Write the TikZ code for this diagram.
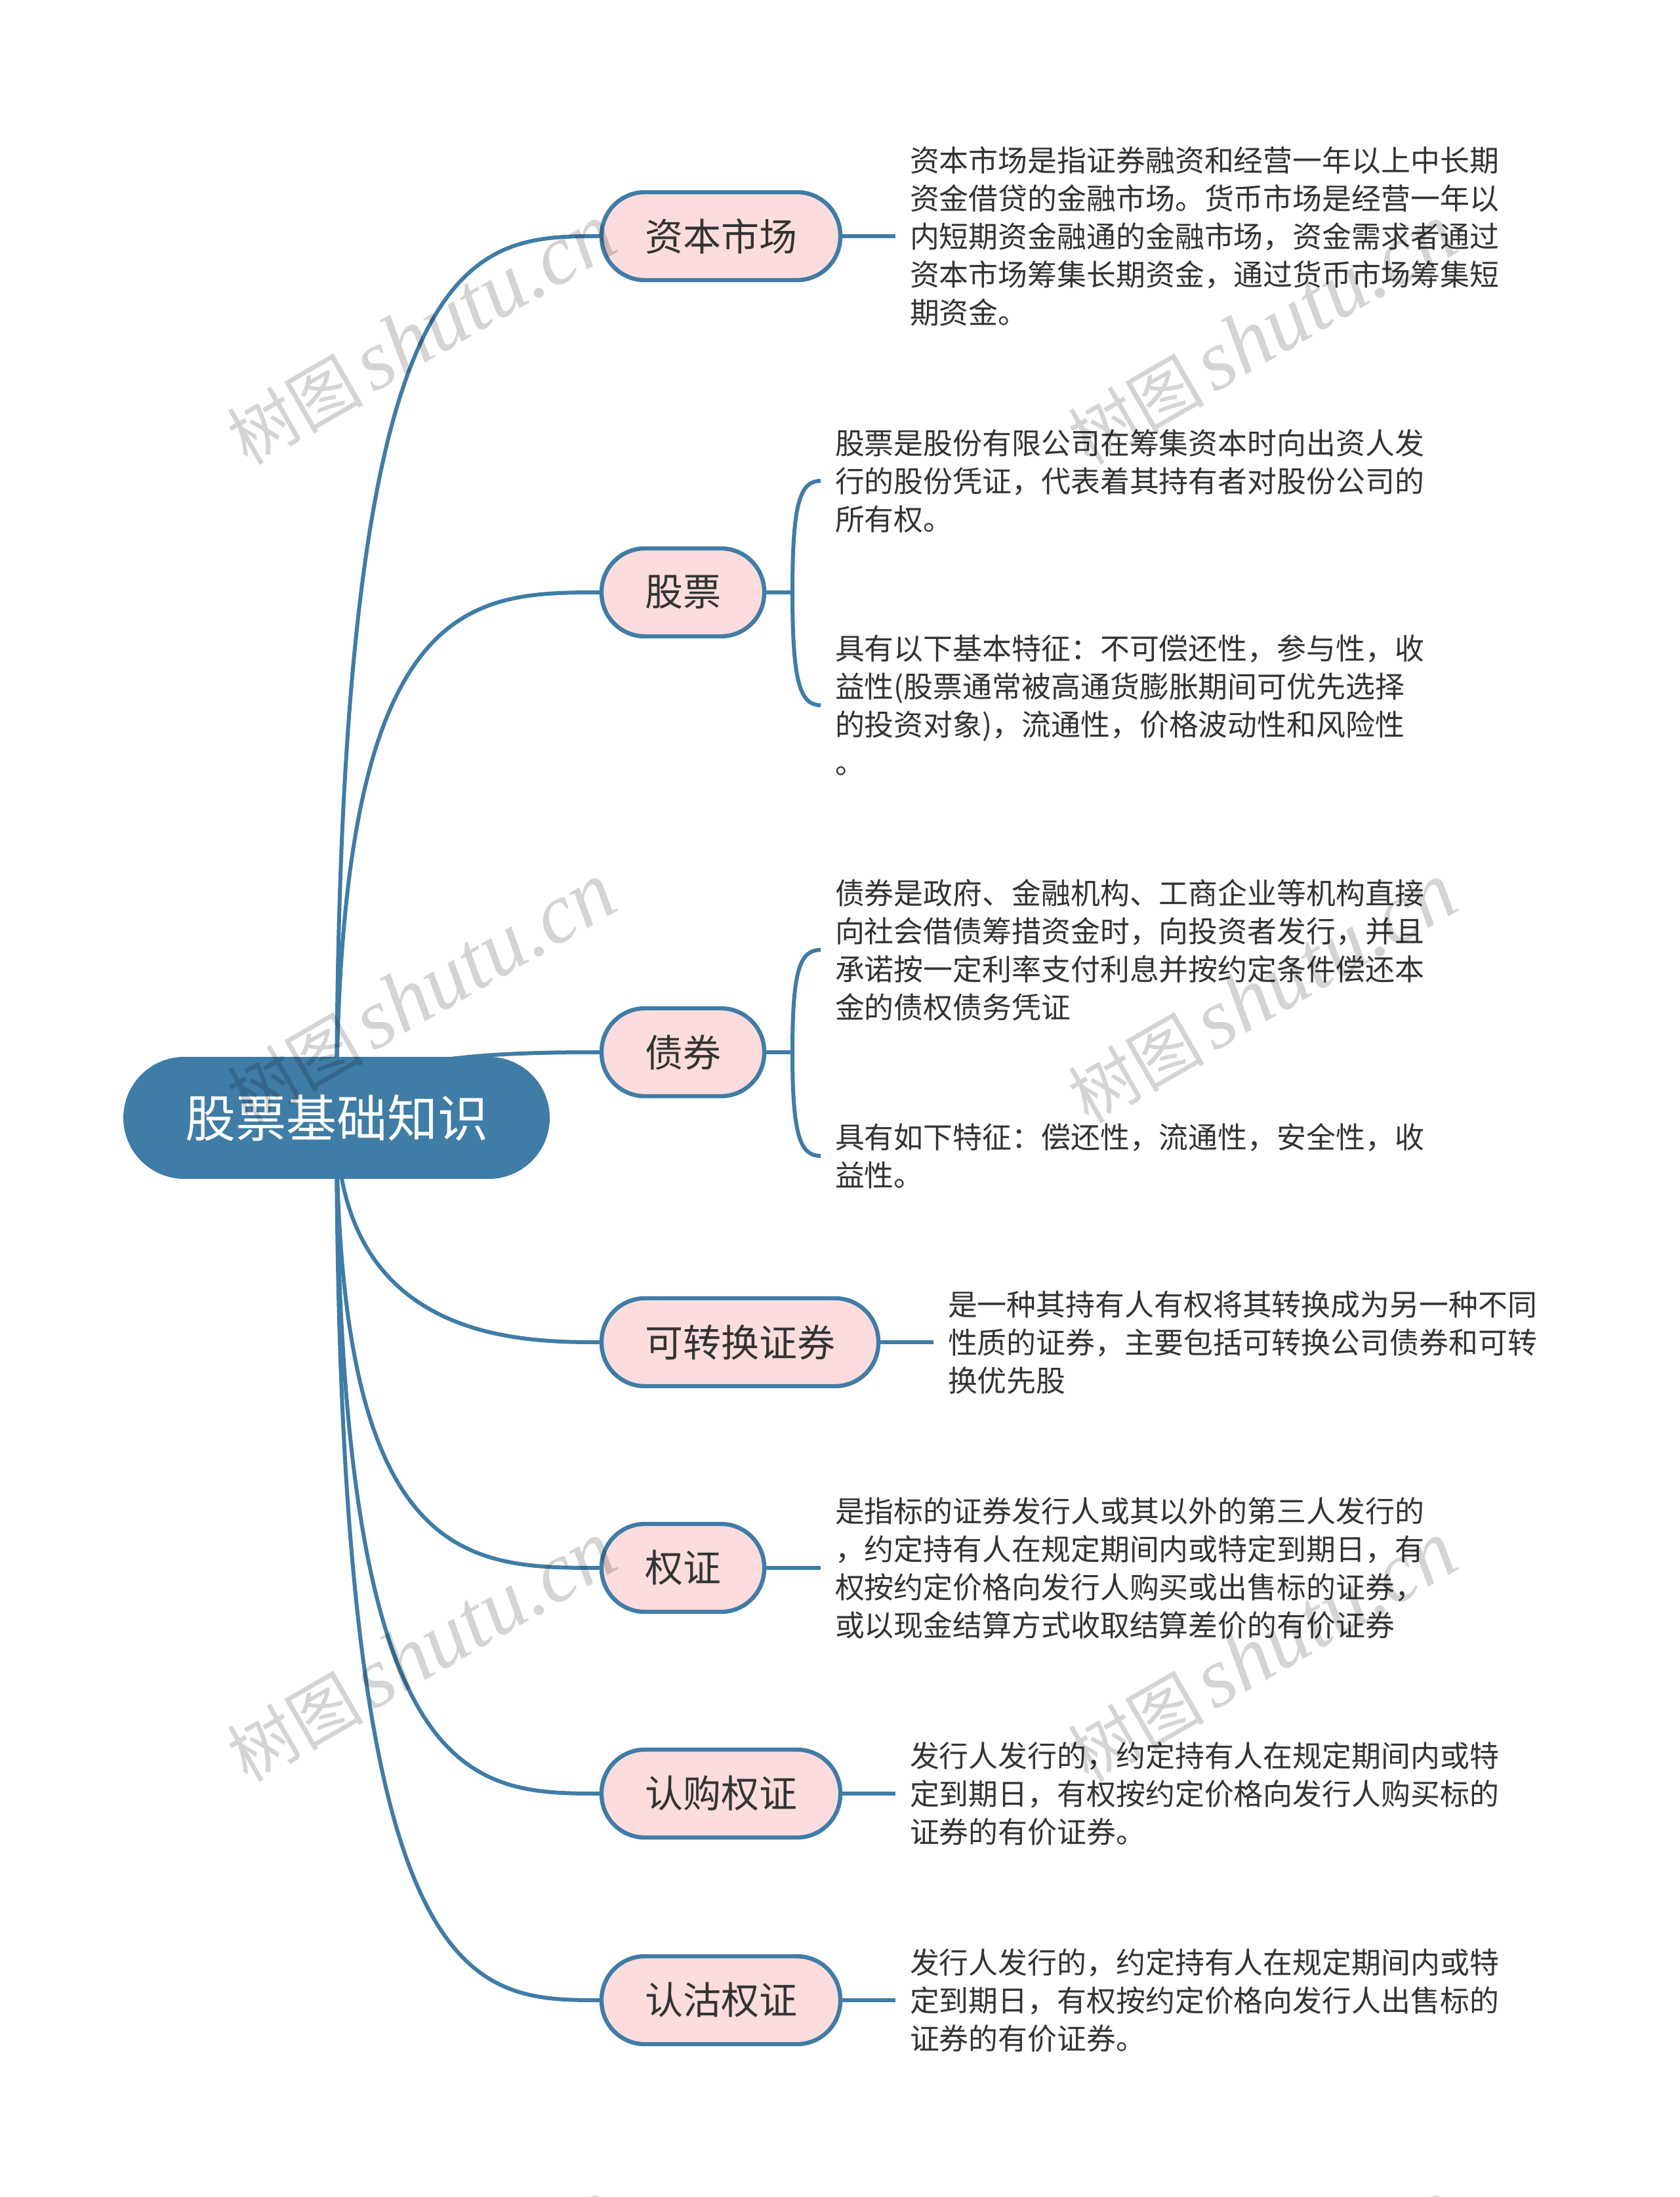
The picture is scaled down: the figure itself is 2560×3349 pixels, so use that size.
\documentclass[tikz,border=0pt]{standalone}
\usepackage{fontspec}
\setmainfont{Noto Sans CJK SC}
\newfontfamily\markcjk{Noto Sans CJK SC}
\newfontfamily\marklatin{Liberation Serif}[ItalicFont=* Italic]
\usetikzlibrary{positioning,backgrounds}
\definecolor{linkblue}{HTML}{3F7CA6}
\definecolor{branchpink}{HTML}{FCDCDC}
\definecolor{notegray}{HTML}{333333}
\tikzset{
    rootnode/.style={draw=linkblue, fill=linkblue, text=white, line width=1pt, rounded corners=46pt,
        minimum height=92pt, inner xsep=46.5pt, inner ysep=0pt, outer sep=0pt,
        font=\fontsize{38.5}{46}\selectfont},
    branchnode/.style={draw=linkblue, fill=branchpink, text=notegray, line width=3.2pt, rounded corners=33pt,
        minimum height=67pt, inner xsep=33pt, inner ysep=0pt, outer sep=0pt,
        font=\fontsize{29}{35}\selectfont},
    notenode/.style={text=notegray, align=left, inner xsep=11pt, inner ysep=0pt, outer sep=0pt,
        font=\fontsize{22.45}{29}\selectfont},
    linkline/.style={draw=linkblue, line width=3pt},
    stubline/.style={draw=linkblue, line width=3.2pt},
    markstamp/.style={rotate=30, text=black, opacity=0.17, inner sep=0pt}
}
\begin{document}
\begin{tikzpicture}[x=0.5pt, y=-0.5pt]
    \useasboundingbox (0,0) rectangle (2560,3349);
    \clip (0,0) rectangle (2560,3349);
    \node[rootnode] (root) at (513,1704) {股票基础知识};
    \node[branchnode, anchor=west] (capital) at (917,360) {资本市场};
    \node[branchnode, below=204.5pt of capital.south west, anchor=north west] (stock) {股票};
    \node[branchnode, below=283.5pt of stock.south west, anchor=north west] (bond) {债券};
    \node[branchnode, below=154pt of bond.south west, anchor=north west] (convert) {可转换证券};
    \node[branchnode, below=105pt of convert.south west, anchor=north west] (warrant) {权证};
    \node[branchnode, below=105pt of warrant.south west, anchor=north west] (callw) {认购权证};
    \node[branchnode, below=90.5pt of callw.south west, anchor=north west] (putw) {认沽权证};
    \node[notenode, right=42pt of capital] (capitalnote) {资本市场是指证券融资和经营一年以上中长期\\资金借贷的金融市场。货币市场是经营一年以\\内短期资金融通的金融市场，资金需求者通过\\资本市场筹集长期资金，通过货币市场筹集短\\期资金。};
    \node[notenode, right=43pt of stock, yshift=85pt] (stocknoteA) {股票是股份有限公司在筹集资本时向出资人发\\行的股份凭证，代表着其持有者对股份公司的\\所有权。};
    \node[notenode, right=43pt of stock, yshift=-86pt] (stocknoteB) {具有以下基本特征：不可偿还性，参与性，收\\益性(股票通常被高通货膨胀期间可优先选择\\的投资对象)，流通性，价格波动性和风险性\\。};
    \node[notenode, right=43pt of bond, yshift=78pt] (bondnoteA) {债券是政府、金融机构、工商企业等机构直接\\向社会借债筹措资金时，向投资者发行，并且\\承诺按一定利率支付利息并按约定条件偿还本\\金的债权债务凭证};
    \node[notenode, right=43pt of bond, yshift=-79pt] (bondnoteB) {具有如下特征：偿还性，流通性，安全性，收\\益性。};
    \node[notenode, right=42pt of convert] (convertnote) {是一种其持有人有权将其转换成为另一种不同\\性质的证券，主要包括可转换公司债券和可转\\换优先股};
    \node[notenode, right=43pt of warrant] (warrantnote) {是指标的证券发行人或其以外的第三人发行的\\，约定持有人在规定期间内或特定到期日，有\\权按约定价格向发行人购买或出售标的证券，\\或以现金结算方式收取结算差价的有价证券};
    \node[notenode, right=42pt of callw] (callnote) {发行人发行的，约定持有人在规定期间内或特\\定到期日，有权按约定价格向发行人购买标的\\证券的有价证券。};
    \node[notenode, right=42pt of putw] (putnote) {发行人发行的，约定持有人在规定期间内或特\\定到期日，有权按约定价格向发行人出售标的\\证券的有价证券。};
    \begin{pgfonlayer}{background}
        \draw[linkline] (root.center) .. controls +(0,-1345) and +(-203,0) .. (capital.west);
        \draw[linkline] (root.center) .. controls +(0,-800) and +(-203,0) .. (stock.west);
        \draw[linkline] (root.center) .. controls +(0,-99) and +(-130,0) .. (bond.west);
        \draw[linkline] (root.center) .. controls +(0,343) and +(-120,0) .. (convert.west);
        \draw[linkline] (root.center) .. controls +(0,687) and +(-203,0) .. (warrant.west);
        \draw[linkline] (root.center) .. controls +(0,1029) and +(-203,0) .. (callw.west);
        \draw[linkline] (root.center) .. controls +(0,1345) and +(-203,0) .. (putw.west);
    \end{pgfonlayer}
    \draw[stubline] (capital) -- (capitalnote);
    \draw[stubline] (convert) -- (convertnote);
    \draw[stubline] (warrant) -- (warrantnote);
    \draw[stubline] (callw) -- (callnote);
    \draw[stubline] (putw) -- (putnote);
    \draw[stubline] (stock.east) -- ++(43,0) coordinate (stockfork);
    \draw[linkline] (stockfork) .. controls +(0,-135) and +(-32,0) .. (stocknoteA.west);
    \draw[linkline] (stockfork) .. controls +(0,135) and +(-32,0) .. (stocknoteB.west);
    \draw[stubline] (bond.east) -- ++(43,0) coordinate (bondfork);
    \draw[linkline] (bondfork) .. controls +(0,-125) and +(-32,0) .. (bondnoteA.west);
    \draw[linkline] (bondfork) .. controls +(0,125) and +(-32,0) .. (bondnoteB.west);
    % watermark grid
    \foreach \wx in {642,1924}
        \foreach \wy in {510,1514,2518,3522}
            \node[markstamp, name=stamp-\wx-\wy] at (\wx,\wy) {{\markcjk\fontsize{52}{60}\selectfont 树图}\hspace{7pt}{\marklatin\itshape\fontsize{65}{70}\selectfont shutu.cn}};
\end{tikzpicture}
\end{document}
